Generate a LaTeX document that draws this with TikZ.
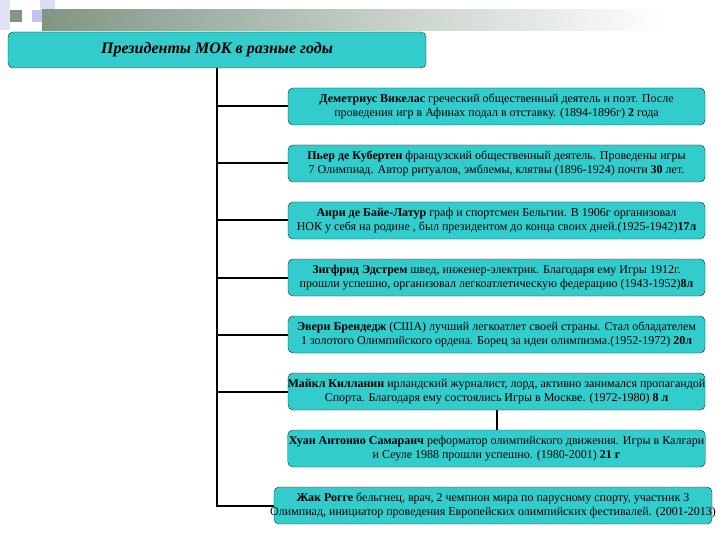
\documentclass[tikz,border=0pt]{standalone}
\usepackage{fontspec}
\setmainfont{Liberation Serif}
\definecolor{turq}{RGB}{51,204,204}
\definecolor{rimcol}{RGB}{20,40,40}
\definecolor{barcol}{RGB}{128,150,132}
\definecolor{lav}{RGB}{196,196,240}
\tikzset{block/.style = {rectangle, draw=rimcol, fill=turq, rounded corners=5pt, align=center,
		minimum width=417pt, minimum height=37pt, inner sep=1pt, font=\fontsize{12}{14}\selectfont},
	head/.style     = {rectangle, draw=rimcol, fill=turq, rounded corners=5pt, minimum width=418pt,
		minimum height=36pt, font=\fontsize{16}{18}\selectfont\bfseries\itshape},
	line/.style     = {draw, line width=2pt}
}

\begin{document}
\begin{tikzpicture}[x=1pt, y=1pt, node distance = 57pt]
		\useasboundingbox (0,0) rectangle (720,-540);
		%% header decoration
		\fill[lav!50] (0,0) rectangle (10,-30);
		\fill[barcol] (10,-10) rectangle (22,-22);
		\fill[lav] (32,-10) rectangle (55,-22);
		\fill[lav!60] (40,0) rectangle (55,-10);
		\shade[left color=barcol, right color=white] (42,-10) rectangle (665,-31);
		\node [head] (hd) at (217,-50) {Президенты МОК в разные годы};
		\node [block] (pr1) at (496.5,-106.5) {\textbf{Деметриус Викелас} греческий общественный деятель и поэт. После\\ проведения игр в Афинах подал в отставку. (1894-1896г) \textbf{2} года};
		\node [block, below of=pr1] (pr2) {\textbf{Пьер де Кубертен} французский общественный деятель. Проведены игры\\ 7 Олимпиад. Автор ритуалов, эмблемы, клятвы (1896-1924) почти \textbf{30} лет.};
		\node [block, below of=pr2] (pr3) {\textbf{Анри де Байе-Латур} граф и спортсмен Бельгии. В 1906г организовал\\ НОК у себя на родине , был президентом до конца своих дней.(1925-1942)\textbf{17л}};
		\node [block, below of=pr3] (pr4) {\textbf{Зигфрид Эдстрем} швед, инженер-электрик. Благодаря ему Игры 1912г.\\ прошли успешно, организовал легкоатлетическую федерацию (1943-1952)\textbf{8л}};
		\node [block, below of=pr4] (pr5) {\textbf{Эвери Брендедж} (США) лучший легкоатлет своей страны. Стал обладателем\\ 1 золотого Олимпийского ордена. Борец за идеи олимпизма.(1952-1972) \textbf{20л}};
		\node [block, below of=pr5, inner xsep=-1pt] (pr6) {\textbf{Майкл Килланин} ирландский журналист, лорд, активно занимался пропагандой\\ Спорта. Благодаря ему состоялись Игры в Москве. (1972-1980) \textbf{8 л}};
		\node [block, below of=pr6] (pr7) {\textbf{Хуан Антонио Самаранч} реформатор олимпийского движения. Игры в Калгари\\ и Сеуле 1988 прошли успешно. (1980-2001) \textbf{21 г}};
		\node [block, below of=pr7, minimum width=438pt, inner xsep=-4pt, xshift=-3.5pt] (pr8) {\textbf{Жак Рогге} бельгиец, врач, 2 чемпион мира по парусному спорту, участник 3\\ Олимпиад, инициатор проведения Европейских олимпийских фестивалей. (2001-2013)};
		%% trunk from the title down to the last box, branches to the right
		\path[line] (hd.south) |- (pr8.west);
		\foreach \k in {1,...,6}
			\path[line] (hd.south |- pr\k.west) -- (pr\k.west);
		\path[line] (pr6.south) -- (pr7.north);
	\end{tikzpicture}
\end{document}
